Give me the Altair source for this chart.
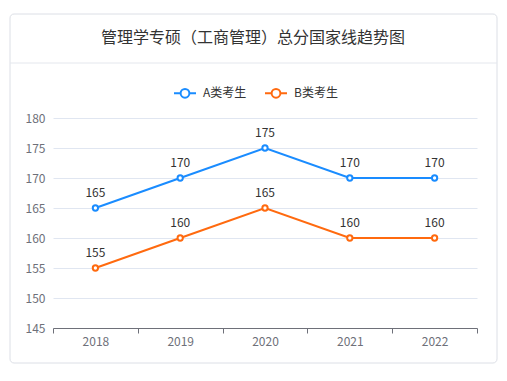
import altair as alt
import pandas as pd

years = ["2018", "2019", "2020", "2021", "2022"]
series_a = [165, 170, 175, 170, 170]
series_b = [155, 160, 165, 160, 160]
series_names = ["A类考生", "B类考生"]
colors = ["#1a8cff", "#ff6a0f"]
title_text = "管理学专硕（工商管理）总分国家线趋势图"
y_ticks = [145, 150, 155, 160, 165, 170, 175, 180]

rows = []
for y, a, b in zip(years, series_a, series_b):
    rows.append({"year": y, "value": a, "series": series_names[0]})
    rows.append({"year": y, "value": b, "series": series_names[1]})
df = pd.DataFrame(rows)

W, H = 424, 210
FONT = "Microsoft YaHei, Noto Sans CJK SC, sans-serif"

x_enc = alt.X("year:N", sort=years, axis=alt.Axis(
    title=None, labelAngle=0, labelColor="#6e7079", labelFontSize=12, labelPadding=3,
    domainColor="#6e7079", tickColor="#6e7079", tickSize=5, tickBand="extent",
    grid=False, labelFont=FONT), scale=alt.Scale(paddingInner=0, paddingOuter=0))
y_enc = alt.Y("value:Q", scale=alt.Scale(domain=[145, 180], nice=False, zero=False),
              axis=alt.Axis(title=None, values=y_ticks, labelColor="#6e7079", labelFontSize=12,
                            labelPadding=8, domain=False, ticks=False, gridColor="#e0e6f1",
                            labelFont=FONT))
color_enc = alt.Color("series:N", scale=alt.Scale(domain=series_names, range=colors),
                      legend=alt.Legend(
                          title=None, orient="none", direction="horizontal",
                          legendX=120, legendY=-37,
                          symbolType="M -0.4,0 A 0.4,0.4 0 1,0 0.4,0 A 0.4,0.4 0 1,0 -0.4,0 M -1,0 L -0.4,0 M 0.4,0 L 1,0",
                          symbolSize=484, symbolStrokeWidth=2, symbolFillColor="white",
                          labelFontSize=12, labelColor="#333333", labelFont=FONT,
                          columnPadding=14, labelOffset=6))

base = alt.Chart(df).encode(x=x_enc, y=y_enc, color=color_enc)

lines = base.mark_line(strokeWidth=2)
points = base.mark_point(filled=False, fill="white", fillOpacity=1, size=28,
                         strokeWidth=2, opacity=1)
labels = base.mark_text(dy=-15, fontSize=12, font=FONT, color="#333333").encode(
    text="value:Q", color=alt.value("#333333"))

frame_df = pd.DataFrame({"k": [0]})
card = alt.Chart(frame_df).mark_rect(
    fill=None, fillOpacity=0, stroke="#dcdfe6", strokeWidth=1, cornerRadius=4).encode(
    x=alt.value(-43), x2=alt.value(444), y=alt.value(-104), y2=alt.value(245))
sep = alt.Chart(frame_df).mark_rule(color="#e4e7ed", strokeWidth=1).encode(
    x=alt.value(-43), x2=alt.value(444), y=alt.value(-55))
title = alt.Chart(frame_df).mark_text(
    fontSize=16, font=FONT, color="#333333", align="center", baseline="middle").encode(
    x=alt.value(200), y=alt.value(-80), text=alt.value(title_text))

chart = alt.layer(card, sep, title, lines, points, labels).properties(
    width=W, height=H,
    background="white",
    autosize=alt.AutoSizeParams(type="none"),
    padding={"left": 45, "top": 110, "right": 22, "bottom": 45},
).configure_view(stroke="transparent", strokeWidth=0)

chart.save("out.html", embed_options={"renderer": "svg", "actions": False})
